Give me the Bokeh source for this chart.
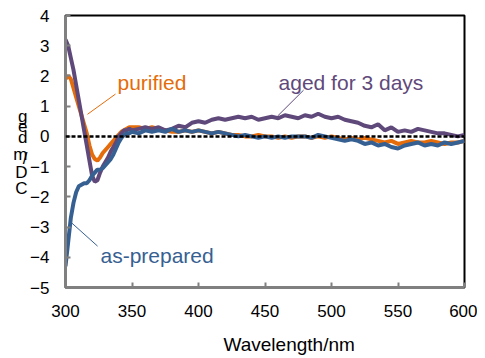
from bokeh.plotting import figure
from bokeh.models import (Span, Label, Range1d, FixedTicker, LinearAxis, Title,
                          AllLabels)
from bokeh.embed import file_html
from bokeh.resources import INLINE

wavelength = [300, 302, 304, 306, 308, 310, 312, 314, 316, 318, 320, 322, 324, 326, 328,
              330, 332, 334, 336, 338, 340, 342, 344, 346, 348, 350,
              355, 360, 365, 370, 375, 380, 385, 390, 395, 400, 405, 410, 415, 420, 425,
              430, 435, 440, 445, 450, 455, 460, 465, 470, 475, 480, 485, 490, 495, 500,
              505, 510, 515, 520, 525, 530, 535, 540, 545, 550, 555, 560, 565, 570, 575,
              580, 585, 590, 595, 600]

purified = [1.9, 2.0, 1.9, 1.6, 1.3, 1.0, 0.7, 0.4, 0.1, -0.3, -0.6, -0.75, -0.8, -0.7, -0.55,
            -0.45, -0.35, -0.25, -0.15, -0.05, 0.05, 0.15, 0.2, 0.25, 0.3, 0.3,
            0.3, 0.25, 0.3, 0.25, 0.2, 0.15, 0.15, 0.2, 0.15, 0.2, 0.15, 0.1, 0.15, 0.1, 0.05,
            0.05, 0.0, 0.0, 0.05, 0.0, 0.0, -0.05, 0.0, -0.05, 0.0, 0.0, -0.05, 0.0, -0.05, 0.0,
            -0.05, -0.1, -0.05, -0.1, -0.05, -0.1, -0.15, -0.2, -0.15, -0.25, -0.2, -0.15, -0.2, -0.2, -0.15,
            -0.2, -0.25, -0.2, -0.2, -0.15]

aged_3_days = [3.2, 3.0, 2.6, 2.2, 1.7, 1.2, 0.7, 0.2, -0.3, -0.8, -1.3, -1.5, -1.45, -1.2, -1.0,
               -0.85, -0.7, -0.5, -0.35, -0.2, 0.0, 0.1, 0.2, 0.2, 0.25, 0.2,
               0.25, 0.3, 0.25, 0.3, 0.2, 0.25, 0.35, 0.3, 0.45, 0.5, 0.45, 0.55, 0.6, 0.55, 0.6,
               0.65, 0.6, 0.65, 0.55, 0.6, 0.65, 0.6, 0.7, 0.65, 0.6, 0.7, 0.65, 0.75, 0.65, 0.6,
               0.65, 0.55, 0.5, 0.45, 0.35, 0.3, 0.4, 0.2, 0.3, 0.15, 0.2, 0.15, 0.25, 0.2, 0.15,
               0.1, 0.1, 0.05, 0.0, 0.05]

as_prepared = [-4.3, -3.5, -2.7, -2.2, -1.85, -1.65, -1.6, -1.55, -1.55, -1.45, -1.3, -1.2, -1.1, -1.1, -1.05,
               -0.95, -0.85, -0.75, -0.6, -0.4, -0.2, -0.05, 0.05, 0.1, 0.1, 0.15,
               0.1, 0.2, 0.15, 0.2, 0.15, 0.25, 0.15, 0.2, 0.15, 0.2, 0.15, 0.1, 0.15, 0.1, 0.05,
               0.0, 0.05, 0.0, -0.05, 0.0, -0.05, 0.0, -0.05, 0.0, 0.0, 0.0, -0.05, 0.05, 0.0, -0.05,
               -0.1, -0.15, -0.1, -0.15, -0.25, -0.2, -0.3, -0.25, -0.35, -0.4, -0.3, -0.25, -0.2, -0.3, -0.25,
               -0.3, -0.2, -0.25, -0.2, -0.15]

x_ticks = [300, 350, 400, 450, 500, 550, 600]
y_ticks = [-5, -4, -3, -2, -1, 0, 1, 2, 3, 4]

# stacked y-axis title characters (as drawn in the reference, read bottom-up: "CD/mdeg")
y_title_chars = ["g", "e", "d", "m", "/", "D", "C"]
y_title_pos = [0.67, 0.33, -0.03, -0.6, -0.73, -1.2, -1.73]

ORANGE = "#E46C0A"
PURPLE = "#5F497A"
BLUE = "#376092"
FONT = "Liberation Sans"

p = figure(frame_width=399, frame_height=272, output_backend="svg", toolbar_location=None,
           x_range=Range1d(300, 600), y_range=Range1d(-5, 4),
           min_border_left=65, min_border_right=13, min_border_top=15, min_border_bottom=71)
p.background_fill_color = "white"
p.border_fill_color = "white"
p.outline_line_color = "black"
p.outline_line_width = 2
p.xgrid.visible = False
p.ygrid.visible = False

for ax, ticks in ((p.xaxis[0], x_ticks), (p.yaxis[0], y_ticks)):
    ax.ticker = FixedTicker(ticks=ticks)
    ax.axis_line_color = "#808080"
    ax.axis_line_width = 3
    ax.major_tick_line_color = "#808080"
    ax.major_tick_line_width = 2
    ax.major_tick_in = 5
    ax.major_tick_out = 0
    ax.minor_tick_line_color = None
    ax.major_label_text_font = FONT
    ax.major_label_text_font_size = "17px"
    ax.major_label_text_color = "black"
p.xaxis[0].major_label_standoff = 17
p.yaxis[0].major_label_standoff = 16

# y title as stacked single characters
ytitle_axis = LinearAxis(ticker=FixedTicker(ticks=y_title_pos),
                         major_label_overrides={v: c for v, c in zip(y_title_pos, y_title_chars)},
                         major_label_policy=AllLabels(),
                         axis_line_color=None, major_tick_line_color=None,
                         minor_tick_line_color=None, major_label_standoff=-6,
                         major_label_text_font=FONT, major_label_text_font_size="17px",
                         major_label_text_color="black")
p.add_layout(ytitle_axis, "left")

p.add_layout(Title(text="Wavelength/nm", text_font=FONT, text_font_size="19px",
                   text_font_style="normal", text_color="black", align="left",
                   offset=158, standoff=24), "below")

p.line(wavelength, purified, line_color=ORANGE, line_width=4)
p.line(wavelength, aged_3_days, line_color=PURPLE, line_width=4)
p.line(wavelength, as_prepared, line_color=BLUE, line_width=4)

p.add_layout(Span(location=0, dimension="width", line_color="black",
                  line_width=2.5, line_dash="4 2"))

# annotations: (text, colour, x, y, leader x0, y0, x1, y1)
notes = [
    ("purified", ORANGE, 339.1, 1.77, 337.6, 1.4, 316.5, 0.73),
    ("aged for 3 days", PURPLE, 460.2, 1.77, 479.0, 1.53, 459.4, 0.67),
    ("as-prepared", BLUE, 326.3, -3.93, 303.8, -2.83, 324.1, -3.63),
]
for txt, col, tx, ty, x0, y0, x1, y1 in notes:
    p.add_layout(Label(x=tx, y=ty, text=txt, text_color=col, text_font=FONT,
                       text_font_size="21px", text_baseline="alphabetic", text_align="left"))
    p.segment(x0=[x0], y0=[y0], x1=[x1], y1=[y1], line_color=col, line_width=1)

open("out.html", "w").write(file_html(p, INLINE))
